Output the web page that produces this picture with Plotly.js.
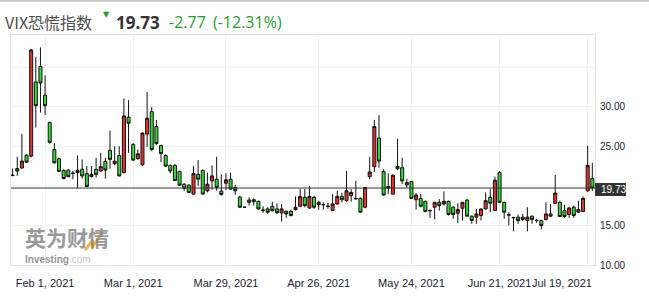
<!DOCTYPE html>
<html>
<head>
<meta charset="utf-8">
<script src="https://cdn.plot.ly/plotly-3.0.1.min.js"></script>
<style>html,body{margin:0;padding:0;background:#fff;}#chart{width:649px;height:300px;}</style>
</head>
<body>
<div id="chart"></div>
<script>
// ---- data ----
const dates = [
"2021-01-21","2021-01-22","2021-01-25","2021-01-26","2021-01-27","2021-01-28","2021-01-29",
"2021-02-01","2021-02-02","2021-02-03","2021-02-04","2021-02-05","2021-02-08","2021-02-09","2021-02-10","2021-02-11","2021-02-12","2021-02-16","2021-02-17","2021-02-18","2021-02-19","2021-02-22","2021-02-23","2021-02-24","2021-02-25","2021-02-26",
"2021-03-01","2021-03-02","2021-03-03","2021-03-04","2021-03-05","2021-03-08","2021-03-09","2021-03-10","2021-03-11","2021-03-12","2021-03-15","2021-03-16","2021-03-17","2021-03-18","2021-03-19","2021-03-22","2021-03-23","2021-03-24","2021-03-25","2021-03-26","2021-03-29","2021-03-30","2021-03-31",
"2021-04-01","2021-04-02","2021-04-05","2021-04-06","2021-04-07","2021-04-08","2021-04-09","2021-04-12","2021-04-13","2021-04-14","2021-04-15","2021-04-16","2021-04-19","2021-04-20","2021-04-21","2021-04-22","2021-04-23","2021-04-26","2021-04-27","2021-04-28","2021-04-29","2021-04-30",
"2021-05-03","2021-05-04","2021-05-05","2021-05-06","2021-05-07","2021-05-10","2021-05-11","2021-05-12","2021-05-13","2021-05-14","2021-05-17","2021-05-18","2021-05-19","2021-05-20","2021-05-21","2021-05-24","2021-05-25","2021-05-26","2021-05-27","2021-05-28",
"2021-06-01","2021-06-02","2021-06-03","2021-06-04","2021-06-07","2021-06-08","2021-06-09","2021-06-10","2021-06-11","2021-06-14","2021-06-15","2021-06-16","2021-06-17","2021-06-18","2021-06-21","2021-06-22","2021-06-23","2021-06-24","2021-06-25","2021-06-28","2021-06-29","2021-06-30",
"2021-07-01","2021-07-02","2021-07-06","2021-07-07","2021-07-08","2021-07-09","2021-07-12","2021-07-13","2021-07-14","2021-07-15","2021-07-16","2021-07-19","2021-07-20"
];
const open = [
21.36,22.2,22.26,23.88,23.76,33.13,35.09,
31.46,28.0,24.59,23.42,21.96,22.0,21.62,21.67,22.09,21.55,21.17,22.09,21.88,23.09,24.5,22.8,23.84,21.67,28.67,
25.22,23.46,22.67,26.55,29.38,27.5,25.09,23.84,22.59,22.59,21.84,20.21,20.09,18.96,21.46,21.96,19.38,20.63,20.84,19.34,20.34,20.84,19.8,
18.59,17.3,18.21,18.25,18.05,16.95,17.09,17.42,17.09,16.59,16.8,16.76,17.01,17.42,18.55,17.21,18.55,17.92,17.65,17.44,16.88,17.71,
18.67,18.13,18.75,18.4,18.42,17.3,21.17,22.42,26.05,21.8,19.92,18.96,22.46,22.3,20.42,20.55,18.25,18.42,18.05,16.9,
17.3,17.92,17.71,18.05,17.3,16.55,17.17,18.21,16.17,16.05,16.26,17.09,18.55,16.88,21.67,17.92,16.36,16.02,16.05,16.05,15.63,16.17,
15.65,15.63,15.76,16.46,17.8,17.92,16.88,16.38,17.3,16.67,16.76,19.38,20.92
];
const high = [
22.2,23.67,26.55,24.0,37.3,36.26,37.5,
33.96,28.13,25.42,23.55,22.09,22.09,21.88,23.84,23.34,22.5,22.5,23.55,24.17,23.55,27.0,25.0,25.0,31.05,30.84,
25.42,24.6,26.76,31.88,30.0,28.34,25.2,23.97,22.67,22.76,21.88,20.34,20.21,22.5,23.26,22.09,21.67,22.59,23.67,21.46,21.59,21.67,20.13,
18.75,17.3,18.55,18.42,18.13,17.42,17.3,18.0,17.8,17.71,16.88,17.0,18.67,19.59,19.59,20.0,18.75,18.13,17.92,17.84,18.96,19.38,
19.09,21.88,19.59,20.63,18.55,19.8,23.67,28.34,28.97,22.09,21.59,21.46,25.96,23.55,20.92,20.63,19.09,18.97,18.13,17.0,
17.95,18.34,19.3,18.13,17.42,17.8,17.95,18.34,16.26,17.09,17.09,19.17,19.59,21.17,21.88,18.0,16.67,16.05,16.38,16.46,17.3,16.26,
15.84,15.63,17.92,17.71,21.38,18.13,17.59,17.3,17.5,18.13,18.67,25.09,22.92
];
const low = [
21.2,21.26,22.2,22.9,23.6,27.38,29.26,
28.96,25.34,22.84,21.75,20.84,21.09,20.84,19.72,20.92,19.85,21.05,21.05,21.8,20.92,22.17,22.59,21.2,21.6,24.17,
23.13,23.26,22.5,24.92,24.38,25.17,23.0,22.42,21.59,20.67,20.0,19.38,19.09,18.88,20.0,18.96,19.17,19.51,19.38,18.76,19.5,19.5,18.88,
17.21,17.3,17.5,17.5,17.0,16.59,16.46,16.76,16.46,15.5,15.96,16.13,16.88,17.3,17.3,17.09,17.09,17.0,17.0,17.09,16.88,17.63,
17.92,18.0,18.0,18.25,16.59,17.17,20.84,21.76,22.3,18.76,18.96,18.88,22.0,20.21,19.8,18.34,17.0,17.3,16.67,15.96,
15.76,16.88,17.5,16.26,15.84,15.3,15.63,16.17,15.21,15.21,15.63,17.0,16.67,16.88,17.92,15.84,15.0,14.26,15.21,15.55,14.26,15.21,
15.34,14.5,15.63,16.05,17.71,16.05,15.96,15.96,15.96,16.59,16.67,19.26,19.38
];
const close = [
21.32,21.88,23.13,23.0,37.17,30.13,33.0,
30.13,25.5,22.92,21.84,20.92,21.17,21.58,21.96,21.26,19.92,21.46,21.46,22.46,22.0,23.34,23.13,21.26,28.84,27.92,
23.26,24.05,26.67,28.55,24.59,25.34,24.09,22.5,21.88,20.67,20.09,19.71,19.17,21.55,20.84,18.96,20.21,21.26,19.8,18.92,20.76,19.59,19.38,
17.3,17.3,17.92,18.0,17.09,16.92,16.67,16.88,16.59,17.09,16.46,16.26,17.3,18.67,17.5,18.67,17.3,17.63,17.62,17.4,17.71,18.67,
18.25,19.38,19.17,18.38,16.67,19.8,21.76,27.5,23.13,18.84,19.71,21.34,22.17,20.63,20.13,18.42,18.84,17.42,16.76,16.86,
17.92,17.5,18.05,16.38,16.38,17.0,17.92,16.17,15.63,16.46,17.09,18.13,17.8,20.72,17.92,16.67,16.32,15.98,15.63,15.76,16.05,15.76,
15.61,15.0,16.46,16.17,19.09,16.13,16.13,17.21,16.26,17.0,18.42,22.59,19.73
];
const tickDates = ["2021-02-01","2021-03-01","2021-03-29","2021-04-26","2021-05-24","2021-06-21","2021-07-19"];
const tickLabels = ["Feb 1, 2021","Mar 1, 2021","Mar 29, 2021","Apr 26, 2021","May 24, 2021","Jun 21, 2021",""];
const lastTickLabel = "Jul 19, 2021";
const yTicks = [10,15,20,25,30,35];
const yTickLabels = ["10.00","15.00","","25.00","30.00",""];
const titleName = "VIX恐慌指数";
const lastValue = 19.73;
const change = "-2.77";
const changePct = "(-12.31%)";

// ---- layout helpers (pixel -> paper) ----
const L = 11, R = 54, T = 35, B = 35, W = 649, H = 300;
const pw = W - L - R, ph = H - T - B;
const px = x => (x - L) / pw;
const py = y => (H - B - y) / ph;

const trace = {
  type: 'candlestick',
  x: dates, open: open, high: high, low: low, close: close,
  increasing: {line: {color: '#111', width: 1}, fillcolor: '#e8312b'},
  decreasing: {line: {color: '#111', width: 1}, fillcolor: '#33dd33'},
  whiskerwidth: 0,
  hoverinfo: 'x+y'
};

const layout = {
  width: W, height: H,
  margin: {l: L, r: R, t: T, b: B, pad: 0},
  paper_bgcolor: '#fff', plot_bgcolor: '#fff',
  showlegend: false,
  boxgap: 0.35, boxgroupgap: 0,
  xaxis: {
    type: 'category', range: [-0.35, 125.58],
    tickvals: tickDates, ticktext: tickLabels,
    showgrid: true, gridcolor: '#f1f1f1', gridwidth: 1,
    showline: true, linecolor: '#e2e2e2', mirror: true,
    ticks: '', ticklabelstandoff: 8,
    tickfont: {family: 'Liberation Sans, Arial, sans-serif', size: 11, color: '#222233'},
    rangeslider: {visible: false}, zeroline: false, fixedrange: true
  },
  yaxis: {
    side: 'right', range: [10, 39.07],
    tickvals: yTicks, ticktext: yTickLabels,
    showgrid: true, gridcolor: '#f1f1f1', gridwidth: 1,
    showline: true, linecolor: '#e2e2e2', mirror: true,
    ticks: '', ticklabelstandoff: 2,
    tickfont: {family: 'Liberation Sans, Arial, sans-serif', size: 10, color: '#222233'},
    zeroline: false, fixedrange: true
  },
  shapes: [
    {type: 'line', xref: 'paper', yref: 'paper', x0: px(0), x1: px(W), y0: py(0.8), y1: py(0.8),
     line: {color: '#c9c9c9', width: 2}},
    {type: 'line', xref: 'paper', yref: 'y', x0: 0, x1: 1, y0: lastValue, y1: lastValue,
     line: {color: '#333', width: 1}, layer: 'above'},
    {type: 'rect', xref: 'paper', yref: 'paper', x0: px(595), x1: px(626), y0: py(196), y1: py(183),
     fillcolor: '#333', line: {width: 0}},
    {type: 'path', xref: 'paper', yref: 'paper',
     path: `M ${px(85)} ${py(250)} L ${px(92)} ${py(241)} L ${px(93)} ${py(246)} L ${px(102)} ${py(233)}`,
     line: {color: 'rgba(246,170,40,0.9)', width: 3}}
  ],
  annotations: [
    {xref: 'paper', yref: 'paper', x: px(3), y: py(22), xanchor: 'left', yanchor: 'middle', showarrow: false,
     text: titleName, font: {family: 'Noto Sans CJK SC, Open Sans, sans-serif', size: 16, color: '#4d4d4d'}},
    {xref: 'paper', yref: 'paper', x: px(106.5), y: py(14), xanchor: 'center', yanchor: 'middle', showarrow: false,
     text: '▼', font: {family: 'DejaVu Sans', size: 8, color: '#1e9e1e'}},
    {xref: 'paper', yref: 'paper', x: px(114), y: py(22), xanchor: 'left', yanchor: 'middle', showarrow: false,
     text: '<b>' + lastValue.toFixed(2) + '</b>', font: {family: 'Open Sans, sans-serif', size: 17, color: '#333'}},
    {xref: 'paper', yref: 'paper', x: px(167), y: py(22), xanchor: 'left', yanchor: 'middle', showarrow: false,
     text: change, font: {family: 'Open Sans, sans-serif', size: 16, color: '#1f9e1f'}},
    {xref: 'paper', yref: 'paper', x: px(211), y: py(22), xanchor: 'left', yanchor: 'middle', showarrow: false,
     text: changePct, font: {family: 'Open Sans, sans-serif', size: 16, color: '#1f9e1f'}},
    {xref: 'paper', yref: 'paper', x: px(599), y: py(189.5), xanchor: 'left', yanchor: 'middle', showarrow: false,
     text: lastValue.toFixed(2), font: {family: 'Liberation Sans, Arial, sans-serif', size: 10, color: '#fff'}},
    {xref: 'paper', yref: 'paper', x: px(594), y: py(283), xanchor: 'right', yanchor: 'middle', showarrow: false,
     text: lastTickLabel, font: {family: 'Liberation Sans, Arial, sans-serif', size: 11, color: '#222233'}},
    {xref: 'paper', yref: 'paper', x: px(24), y: py(253), xanchor: 'left', yanchor: 'bottom', showarrow: false,
     borderpad: 0, text: '<b>英为财情</b>',
     font: {family: 'Noto Sans CJK SC, sans-serif', size: 21, color: 'rgba(125,125,125,0.8)'}},
    {xref: 'paper', yref: 'paper', x: px(24), y: py(253), xanchor: 'left', yanchor: 'top', showarrow: false,
     borderpad: 0, text: '<b>Investing</b><span style="color:#b5b5b5">.com</span>',
     font: {family: 'Liberation Sans, Arial, sans-serif', size: 10, color: 'rgba(125,125,125,0.85)'}}
  ]
};

Plotly.newPlot('chart', [trace], layout, {staticPlot: true, displayModeBar: false});
</script>
</body>
</html>
